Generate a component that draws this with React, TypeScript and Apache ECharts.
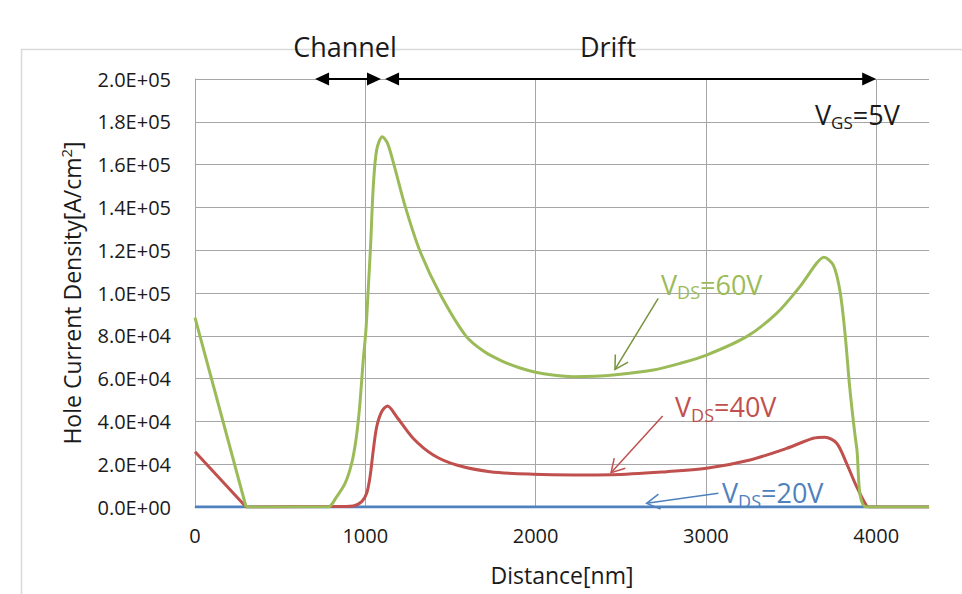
import React, { useEffect, useRef } from 'react';
import * as echarts from 'echarts';

// ---- data ----
const xTicks = [0, 1000, 2000, 3000, 4000];
const xMax = 4310;
const yStep = 20000;
const yMax = 200000;
const yTickLabels = ['0.0E+00', '2.0E+04', '4.0E+04', '6.0E+04', '8.0E+04', '1.0E+05', '1.2E+05', '1.4E+05', '1.6E+05', '1.8E+05', '2.0E+05'];

// the part of each curve up to this distance is a straight segment in the reference
const straightUntil = 300;

const vds20: [number, number][] = [[0, 0], [1000, 0], [2000, 0], [3000, 0], [3950, 0], [4310, 0]];

const vds40: [number, number][] = [
  [0, 25800], [300, 0], [800, 200], [928, 500], [979, 2500], [1008, 6400], [1028, 14200], [1047, 26600],
  [1067, 37500], [1096, 44500], [1130, 47200], [1184, 42200], [1282, 32000], [1399, 24300], [1536, 19600],
  [1732, 16500], [1986, 15300], [2221, 15000], [2450, 15100], [2770, 16500], [3004, 18100], [3259, 22000],
  [3474, 27400], [3630, 32100], [3699, 32600], [3768, 29800], [3826, 20400], [3885, 9500], [3944, 500],
  [3960, 0], [4310, 0],
];

const vds60: [number, number][] = [
  [0, 88500], [300, 0], [750, 0], [783, 0], [832, 4800], [881, 11000], [920, 20400], [945, 31300],
  [965, 45300], [979, 59300], [988, 68700], [1004, 83000], [1018, 103000], [1031, 122000], [1047, 150000],
  [1067, 167000], [1100, 173000], [1130, 170000], [1168, 160000], [1236, 140000], [1319, 120000],
  [1436, 100000], [1590, 80000], [1700, 72500], [1800, 68300], [1900, 65200], [2000, 63000], [2100, 61700],
  [2221, 60900], [2350, 61100], [2456, 61700], [2691, 64000], [2848, 67100], [3004, 71000], [3239, 79600],
  [3415, 90500], [3552, 103000], [3650, 113900], [3693, 116700], [3748, 113000], [3787, 101000],
  [3817, 81000], [3846, 54700], [3885, 28000], [3944, 0], [4310, 0],
];

const regionArrows = [
  { label: 'Channel', from: 705, to: 1092, textX: 345 },
  { label: 'Drift', from: 1116, to: 4000, textX: 608 },
];

const pointerArrows = [
  { color: '#77933C', tail: [2720, 97500], tip: [2466, 64300] },
  { color: '#C0504D', tail: [2746, 42500], tip: [2443, 16000] },
  { color: '#4F81BD', tail: [3073, 6400], tip: [2652, 1700] },
];

const seriesLabels = [
  { main: 'V', sub: 'DS', rest: '=60V', color: '#9BBB59', x: 661, y: 284, subSize: 18 },
  { main: 'V', sub: 'DS', rest: '=40V', color: '#C0504D', x: 675, y: 406.5, subSize: 18 },
  { main: 'V', sub: 'DS', rest: '=20V', color: '#4F81BD', x: 722, y: 492.5, subSize: 18 },
  { main: 'V', sub: 'GS', rest: '=5V', color: '#1a1a1a', x: 815, y: 114, subSize: 17 },
];

const FONT = "'Open Sans', sans-serif";
const TXT = '#1a1a1a';
const GRID = '#a6a6a6';

export default function App() {
  const ref = useRef<HTMLDivElement>(null);

  useEffect(() => {
    const chart = echarts.init(ref.current!, null, { renderer: 'svg' });
    const lineSeries = (name: string, data: [number, number][], color: string, z: number, smooth: any, extra: any = {}) => ({
      type: 'line',
      name,
      data,
      z,
      smooth,
      symbol: 'none',
      showSymbol: false,
      lineStyle: { color, width: 3 },
      itemStyle: { color },
      emphasis: { disabled: true },
      ...extra,
    });
    const straight = (d: [number, number][]) => d.filter((p) => p[0] <= straightUntil);
    const curved = (d: [number, number][]) => d.filter((p) => p[0] >= straightUntil);

    const option: any = {
      animation: false,
      backgroundColor: '#ffffff',
      grid: { left: 195, top: 79, right: 33, bottom: 87, containLabel: false },
      xAxis: {
        type: 'value',
        min: 0,
        max: xMax,
        interval: 1000,
        name: 'Distance[nm]',
        nameLocation: 'middle',
        nameGap: 56,
        nameTextStyle: { fontSize: 23, fontFamily: FONT, color: TXT },
        axisLine: { show: true, lineStyle: { color: GRID, width: 1 } },
        axisTick: { show: false },
        axisLabel: {
          fontSize: 20,
          fontFamily: FONT,
          color: TXT,
          margin: 18,
          formatter: (v: number) => (xTicks.includes(v) ? String(v) : ''),
        },
        splitLine: { show: false },
      },
      yAxis: {
        type: 'value',
        min: 0,
        max: yMax,
        interval: yStep,
        name: '{a|Hole Current Density[A/cm}{s|2}{a|]}',
        nameLocation: 'middle',
        nameRotate: 90,
        nameGap: 110,
        nameTextStyle: {
          fontSize: 23,
          fontFamily: FONT,
          color: TXT,
          rich: {
            a: { fontSize: 23, fontFamily: FONT, color: TXT },
            s: { fontSize: 15, fontFamily: FONT, color: TXT, padding: [0, 0, 12, 0] },
          },
        },
        axisLine: { show: true, lineStyle: { color: GRID, width: 1 } },
        axisTick: { show: false },
        axisLabel: {
          fontSize: 20,
          fontFamily: FONT,
          color: TXT,
          margin: 24,
          formatter: (v: number) => yTickLabels[Math.round(v / yStep)] ?? '',
        },
        splitLine: { show: true, lineStyle: { color: GRID, width: 1 } },
      },
      series: [
        lineSeries('VDS=20V', vds20, '#4F81BD', 3, false, {
          markLine: {
            silent: true,
            z: 1,
            symbol: 'none',
            label: { show: false },
            emphasis: { disabled: true },
            lineStyle: { color: GRID, width: 1, type: 'solid' },
            data: xTicks.filter((v) => v > 0).map((v) => ({ xAxis: v })),
          },
        }),
        lineSeries('VDS=40V', straight(vds40), '#C0504D', 4, false),
        lineSeries('VDS=40V', curved(vds40), '#C0504D', 4, 0.3),
        lineSeries('VDS=60V', straight(vds60), '#9BBB59', 5, false),
        lineSeries('VDS=60V', curved(vds60), '#9BBB59', 5, 0.3),
      ],
    };
    chart.setOption(option);

    const toPx = (p: number[]) => chart.convertToPixel({ gridIndex: 0 }, p) as number[];
    const g: any[] = [];

    // outer chart frame
    g.push({
      type: 'rect',
      z: -1,
      shape: { x: 21.5, y: 49.5, width: 1000, height: 700 },
      style: { fill: 'none', stroke: '#d9d9d9', lineWidth: 1.5 },
      silent: true,
    });

    // region arrows on top edge
    regionArrows.forEach((r) => {
      const a = toPx([r.from, yMax]);
      const b = toPx([r.to, yMax]);
      const y = a[1];
      const hl = 14;
      const hw = 6.5;
      g.push({ type: 'line', z: 50, shape: { x1: a[0] + 4, y1: y, x2: b[0] - 4, y2: y }, style: { stroke: '#000', lineWidth: 2.2 } });
      g.push({ type: 'polygon', z: 50, shape: { points: [[a[0], y], [a[0] + hl, y - hw], [a[0] + hl, y + hw]] }, style: { fill: '#000' } });
      g.push({ type: 'polygon', z: 50, shape: { points: [[b[0], y], [b[0] - hl, y - hw], [b[0] - hl, y + hw]] }, style: { fill: '#000' } });
      g.push({
        type: 'text',
        z: 50,
        x: r.textX,
        y: 46.5,
        style: { text: r.label, font: `27px ${FONT}`, fill: TXT, align: 'center', verticalAlign: 'middle' },
      });
    });

    // pointer arrows
    pointerArrows.forEach((p) => {
      const t = toPx(p.tail);
      const h = toPx(p.tip);
      const dx = t[0] - h[0];
      const dy = t[1] - h[1];
      const len = Math.sqrt(dx * dx + dy * dy);
      const ux = dx / len;
      const uy = dy / len;
      const L = 15;
      const ang = (30 * Math.PI) / 180;
      const rot = (s: number) => [
        h[0] + L * (ux * Math.cos(s * ang) - uy * Math.sin(s * ang)),
        h[1] + L * (ux * Math.sin(s * ang) + uy * Math.cos(s * ang)),
      ];
      g.push({ type: 'line', z: 50, shape: { x1: t[0], y1: t[1], x2: h[0], y2: h[1] }, style: { stroke: p.color, lineWidth: 1.5 } });
      g.push({ type: 'polyline', z: 50, shape: { points: [rot(1), h, rot(-1)] }, style: { stroke: p.color, lineWidth: 1.5, fill: 'none' } });
    });

    // series labels with subscripts
    seriesLabels.forEach((s) => {
      g.push({
        type: 'text',
        z: 50,
        x: s.x,
        y: s.y,
        style: {
          text: `{a|${s.main}}{b|${s.sub}}{a|${s.rest}}`,
          align: 'left',
          verticalAlign: 'middle',
          font: `27px ${FONT}`,
          fill: s.color,
          rich: {
            a: { fontSize: 27, fontFamily: FONT, fill: s.color },
            b: { fontSize: s.subSize, fontFamily: FONT, fill: s.color, padding: [16, 0, 0, 0] },
          },
        },
      });
    });

    chart.setOption({ graphic: { elements: g } });

    return () => chart.dispose();
  }, []);

  return (
    <div
      ref={ref}
      style={{ position: 'absolute', left: 0, top: 0, width: 962, height: 594, background: '#fff' }}
    />
  );
}
